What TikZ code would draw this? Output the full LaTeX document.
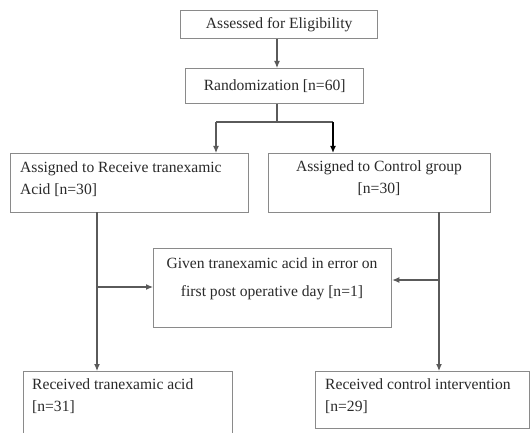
\documentclass[tikz,border=0pt]{standalone}
\usepackage{fontspec}
\setmainfont{Liberation Serif}
\usetikzlibrary{arrows.meta}
\definecolor{boxc}{HTML}{8A8A8A}
\definecolor{linec}{HTML}{5A5A5A}
\definecolor{txtc}{HTML}{2A2A2A}
\begin{document}
\begin{tikzpicture}[x=1pt,y=-1pt,
  box/.style={draw=boxc,line width=1.3pt,rectangle,inner sep=0pt,anchor=north west},
  lbl/.style={text=txtc,font=\fontsize{15.6}{22}\selectfont,inner sep=0pt},
  conn/.style={draw=linec,line width=1.1pt},
  arr/.style={conn,-{Latex[length=7pt,width=6pt]}}]
\useasboundingbox (0,0) rectangle (530,433);
\fill[white] (0,0) rectangle (530,433);
% boxes
\node[box,minimum width=197pt,minimum height=28pt] (b1) at (180,10) {};
\node[box,minimum width=178pt,minimum height=35pt] (b2) at (185,68) {};
\node[box,minimum width=238pt,minimum height=59pt] (b3) at (10,153) {};
\node[box,minimum width=222pt,minimum height=59pt] (b4) at (268,153) {};
\node[box,minimum width=238pt,minimum height=79pt] (b5) at (153,248) {};
\node[box,minimum width=209pt,minimum height=66pt] (b6) at (23,371) {};
\node[box,minimum width=214pt,minimum height=57pt] (b7) at (315,371) {};
% texts
\node[lbl] (t1) at (b1.center) {Assessed for Eligibility};
\node[lbl] (t2) at (b2.center) {Randomization [n=60]};
\node[lbl,anchor=west,align=left] (t3) at (20,179) {Assigned to Receive tranexamic\\Acid [n=30]};
\node[lbl,anchor=center,align=center] (t4) at (379,178) {Assigned to Control group\\{}[n=30]};
\node[lbl,anchor=center,align=center,font=\fontsize{15.6}{28}\selectfont] (t5) at (272,279) {Given tranexamic acid in error on\\first post operative day [n=1]};
\node[lbl,anchor=west,align=left] (t6) at (32,396) {Received tranexamic acid\\{}[n=31]};
\node[lbl,anchor=west,align=left] (t7) at (325,396) {Received control intervention\\{}[n=29]};
% junction coordinates
\coordinate (jL) at (216,122);
\coordinate (jR) at (333,122);
\coordinate (tL) at (97,212);
\coordinate (tR) at (439,212);
\coordinate (mL) at (97,287);
\coordinate (mR) at (439,280);
% connectors
\draw[arr] (b1.south -| 277,0) -- (b2.north -| 277,0);
\draw[conn] (b2.south -| 277,0) -- (277,122);
\draw[conn] (jL) -- (jR);
\draw[arr] (jL) -- (jL |- b3.north);
\draw[arr,line width=1.4pt,draw=black] (jR) -- (jR |- b4.north);
\draw[arr] (tL) -- (tL |- b6.north);
\draw[arr] (tR) -- (tR |- b7.north);
\draw[arr] (mL) -- (mL -| b5.west);
\draw[arr] (mR) -- (mR -| b5.east);
\end{tikzpicture}
\end{document}
